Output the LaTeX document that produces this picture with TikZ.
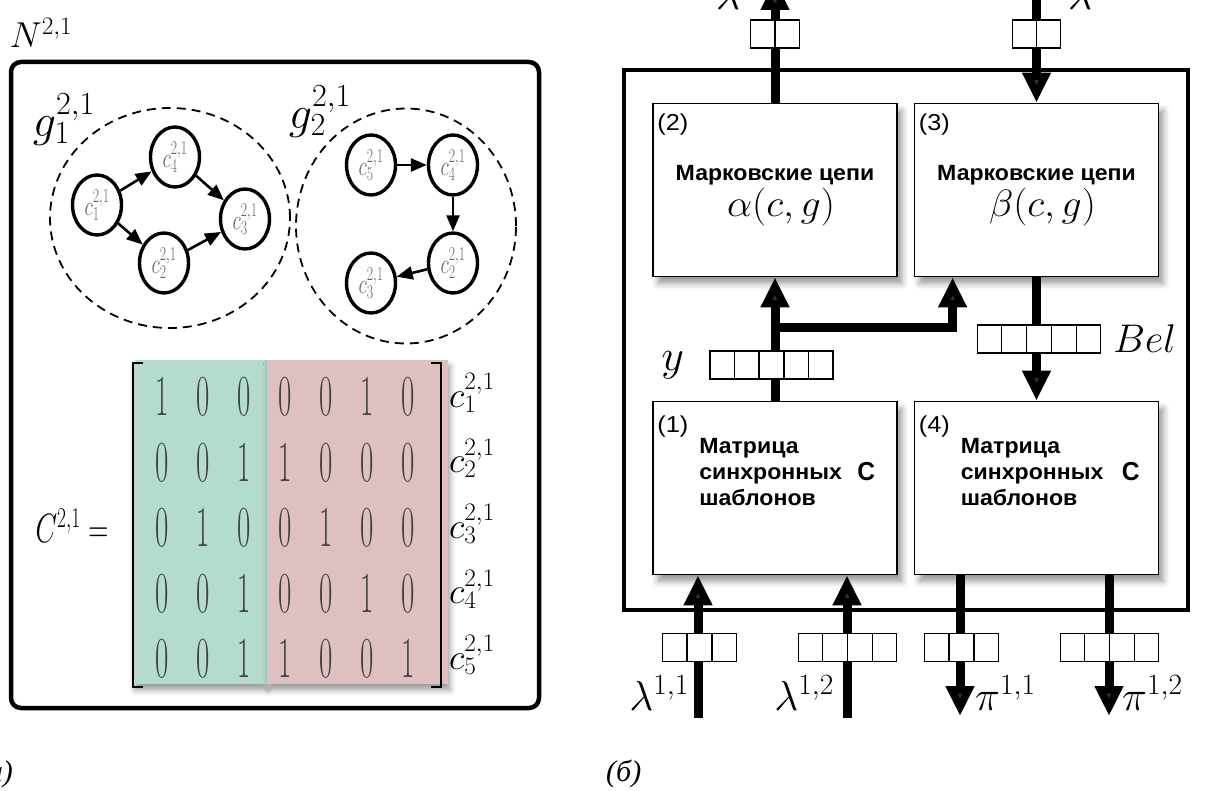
\RequirePackage{fix-cm}
\documentclass[tikz,border=0pt]{standalone}
\usepackage[no-math]{fontspec}
\usepackage{graphicx}
\setmainfont{Liberation Serif}
\setsansfont{Liberation Sans}
\usetikzlibrary{arrows.meta,positioning,shapes.geometric,shapes.multipart,shadows.blur}

\definecolor{tplgreen}{HTML}{B3DCCD}
\definecolor{tplred}{HTML}{DFC0C1}
\newcommand{\chunktext}[1]{\scalebox{0.7}[1]{$c^{2,1}_{#1}$}}

\tikzset{
  grp/.style={draw, ellipse, line width=1.8pt, dash pattern=on 9pt off 6pt},
  chunk/.style={draw, ellipse, line width=3.4pt, minimum width=49pt, minimum height=60pt, inner sep=0pt, text=black!60, font=\fontsize{28}{32}\selectfont},
  link/.style={line width=2.6pt, -{Triangle[width=13pt,length=16pt]}},
  dig/.style={xscale=0.5, text=black!75, font=\fontsize{58}{62}\selectfont},
  brk/.style={line width=2.6pt, line join=miter},
  flow/.style={line width=9pt, -{Triangle[width=27pt,length=30pt]}},
  blk/.style={draw, fill=white, line width=1.8pt, minimum width=244pt, minimum height=173pt, inner sep=0pt,
    blur shadow={shadow xshift=5pt, shadow yshift=-7pt, shadow blur radius=6pt}},
  reg/.style={draw, fill=white, line width=1.3pt, inner sep=0pt, rectangle split, rectangle split horizontal,
    rectangle split parts=#1, rectangle split empty part width=19pt,
    rectangle split empty part height=28pt, rectangle split empty part depth=0pt},
  tag/.style={xscale=1.1, inner sep=0pt, font=\sffamily\fontsize{23}{26}\selectfont},
  txt/.style={xscale=1.05, inner sep=0pt, font=\sffamily\bfseries\fontsize{22}{26}\selectfont},
  mth/.style={xscale=1.05, inner sep=0pt, font=\fontsize{38}{42}\selectfont},
  msg/.style={inner sep=0pt, font=\fontsize{42}{46}\selectfont},
  capt/.style={inner sep=0pt, font=\itshape\fontsize{30}{34}\selectfont},
}

\begin{document}
\begin{tikzpicture}[x=1pt, y=-1pt]
  \useasboundingbox (0,0) rectangle (1211,791);

  % (a)
  \node[draw, line width=4.5pt, rounded corners=10pt, minimum width=528pt, minimum height=646pt] (net) at (275,385) {};
  \node[font=\fontsize{36}{40}\selectfont] (nlab) at (41,33) {$N^{2,1}$};

  \node[grp, minimum width=240pt, minimum height=220pt] (grp1) at (170,218) {};
  \node[grp, minimum width=220pt, minimum height=235pt] (grp2) at (406,226) {};
  \node[font=\fontsize{46}{50}\selectfont] (g1lab) at (64,120) {$g_1^{2,1}$};
  \node[font=\fontsize{46}{50}\selectfont] (g2lab) at (320,112) {$g_2^{2,1}$};

  \node[chunk] (c1a) at (97,205) {\chunktext{1}};
  \node[chunk] (c4a) at (175,157) {\chunktext{4}};
  \node[chunk] (c3a) at (245,219) {\chunktext{3}};
  \node[chunk] (c2a) at (164,263) {\chunktext{2}};
  \node[chunk] (c5b) at (371,165) {\chunktext{5}};
  \node[chunk] (c4b) at (453,165) {\chunktext{4}};
  \node[chunk] (c2b) at (453,263) {\chunktext{2}};
  \node[chunk] (c3b) at (371,283) {\chunktext{3}};

  \draw[link] (c1a) -- (c4a);
  \draw[link] (c4a) -- (c3a);
  \draw[link] (c1a) -- (c2a);
  \draw[link] (c2a) -- (c3a);
  \draw[link] (c5b) -- (c4b);
  \draw[link] (c4b) -- (c2b);
  \draw[link] (c2b) -- (c3b);

  \fill[tplgreen, blur shadow={shadow xshift=0pt, shadow yshift=-6pt, shadow blur radius=6pt}] (135,360) rectangle (267,684);
  \fill[tplred, blur shadow={shadow xshift=2pt, shadow yshift=-6pt, shadow blur radius=6pt}] (267,360) rectangle (448,684);
  \draw[brk] (143,363) -- (133,363) -- (133,687) -- (143,687);
  \draw[brk] (431,363) -- (441,363) -- (441,687) -- (431,687);

  \foreach \row [count=\r] in {{1,0,0,0,0,1,0},{0,0,1,1,0,0,0},{0,1,0,0,1,0,0},{0,0,1,0,0,1,0},{0,0,1,1,0,0,1}}
    \foreach \v [count=\c] in \row
      \node[dig] (m-\r-\c) at ({121+41*\c},{397+65.5*(\r-1)}) {$\v$};
  \foreach \r in {1,...,5}
    \node[anchor=west, inner sep=0pt, font=\fontsize{36}{40}\selectfont] (row\r) at (449,{393+65.5*(\r-1)}) {$c^{2,1}_{\r}$};

  \node[xscale=0.68, font=\fontsize{41}{45}\selectfont] (clab) at (72,526) {$C^{2,1}=$};

  \node[capt, anchor=base east] (capa) at (13,781) {(а)};

  % (b)
  \node[draw, line width=3.5pt, minimum width=564pt, minimum height=540pt] (unit) at (906,340) {};

  \node[blk] (box2) at (775,190) {};
  \node[blk] (box3) at (1036.5,190) {};
  \node[blk] (box1) at (775,488) {};
  \node[blk] (box4) at (1036.5,488) {};

  \coordinate (upout) at (775,-20);
  \coordinate (downin) at (1036.5,-20);
  \coordinate (fork) at (775,328);
  \coordinate (in11) at (698,718);
  \coordinate (in12) at (847,718);
  \coordinate (out11) at (960,716);
  \coordinate (out12) at (1109,716);

  \draw[flow] (box2.north) -- (upout);
  \draw[flow] (downin) -- (box3.north);
  \draw[flow] (box1.north) -- (box2.south);
  \draw[flow] (fork) -| ([xshift=39pt]box3.south west);
  \draw[flow] (box3.south) -- (box4.north);
  \draw[flow] (in11) -- (in11 |- box1.south);
  \draw[flow] (in12) -- (in12 |- box1.south);
  \draw[flow] (out11 |- box4.south) -- (out11);
  \draw[flow] (out12 |- box4.south) -- (out12);

  \node[reg=2] (rup) at (775,34) {};
  \node[reg=2] (rdown) at (1036.5,34) {};
  \node[reg=5] (ry) at (771.5,365) {};
  \node[reg=5] (rbel) at (1039,339) {};
  \node[reg=3] (r11) at (699.5,647.5) {};
  \node[reg=4] (r12) at (847.5,647.5) {};
  \node[reg=3] (p11) at (961.5,647.5) {};
  \node[reg=4] (p12) at (1109.5,647.5) {};

  \node[tag, anchor=north west] (n2) at ([shift={(5,11)}]box2.north west) {(2)};
  \node[txt, anchor=base] (t2) at ([shift={(0,78)}]box2.north) {Марковские цепи};
  \node[mth, anchor=base] (f2) at ([shift={(6,114)}]box2.north) {$\alpha(c,g)$};

  \node[tag, anchor=north west] (n3) at ([shift={(5,11)}]box3.north west) {(3)};
  \node[txt, anchor=base] (t3) at ([shift={(0,78)}]box3.north) {Марковские цепи};
  \node[mth, anchor=base] (f3) at ([shift={(6,114)}]box3.north) {$\beta(c,g)$};

  \node[tag, anchor=north west] (n1) at ([shift={(5,15)}]box1.north west) {(1)};
  \node[txt, anchor=north west, align=left] (t1) at ([shift={(47,38)}]box1.north west) {Матрица\\синхронных\\шаблонов};
  \node[txt, anchor=base west, font=\sffamily\bfseries\fontsize{26}{28}\selectfont, xscale=0.9] (s1) at ([shift={(205,80)}]box1.north west) {C};

  \node[tag, anchor=north west] (n4) at ([shift={(5,15)}]box4.north west) {(4)};
  \node[txt, anchor=north west, align=left] (t4) at ([shift={(47,38)}]box4.north west) {Матрица\\синхронных\\шаблонов};
  \node[txt, anchor=base west, font=\sffamily\bfseries\fontsize{26}{28}\selectfont, xscale=0.9] (s4) at ([shift={(208,80)}]box4.north west) {C};

  \node[msg, font=\fontsize{44}{48}\selectfont, left=25pt of ry] (ylab) {$y$};
  \node[msg, font=\fontsize{40}{44}\selectfont, right=12pt of rbel] (bellab) {$Bel$};

  \node[msg, anchor=base] (lup) at (728,10) {$\lambda$};
  \node[msg, anchor=base] (ldown) at (1080,10) {$\lambda$};

  \node[msg, anchor=base east] (l11) at (689,710) {$\lambda^{1,1}$};
  \node[msg, anchor=base east] (l12) at (834,710) {$\lambda^{1,2}$};
  \node[msg, anchor=base west] (q11) at (975,710) {$\pi^{1,1}$};
  \node[msg, anchor=base west] (q12) at (1122,710) {$\pi^{1,2}$};

  \node[capt, anchor=base west] (capb) at (606,781) {(б)};
\end{tikzpicture}
\end{document}
